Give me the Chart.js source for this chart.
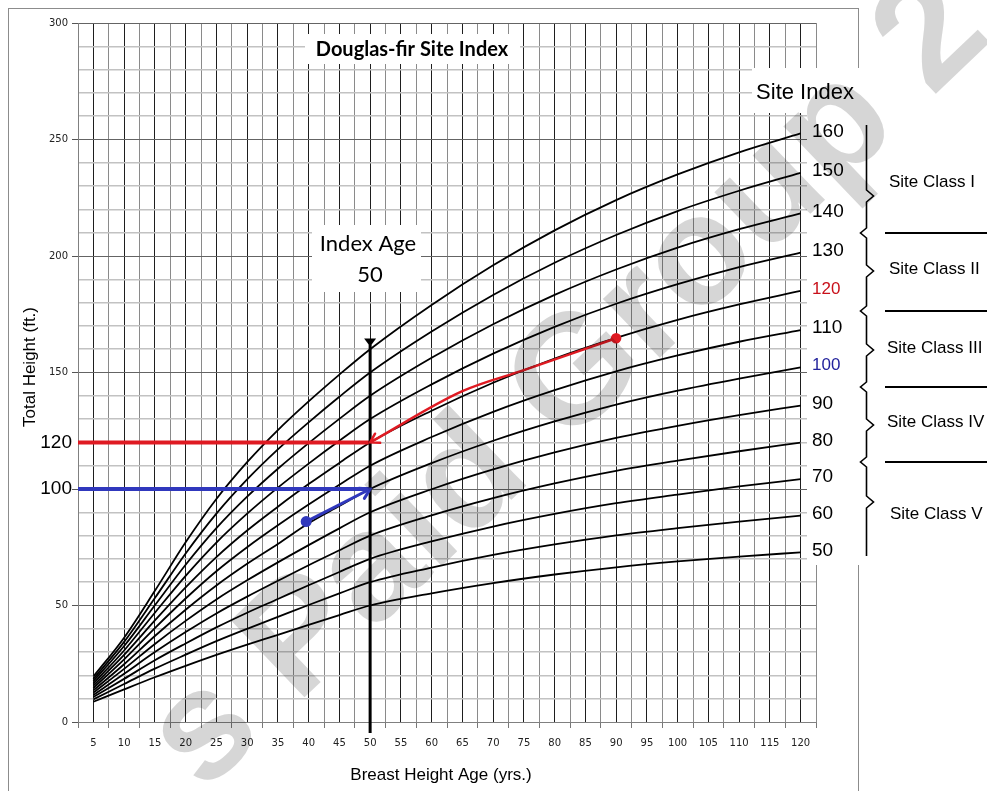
<!DOCTYPE html>
<html>
<head>
<meta charset="utf-8">
<title>Douglas-fir Site Index</title>
<script src="https://cdn.jsdelivr.net/npm/chart.js@4.4.1/dist/chart.umd.min.js"></script>
<style>
html, body { margin: 0; padding: 0; background: #fff; }
#wrap { width: 987px; height: 791px; }
</style>
</head>
<body>
<div id="wrap"><canvas id="siteChart" width="987" height="791"></canvas></div>
<script>
// breast height ages the curves were read at
const ages = [5, 10, 15, 20, 25, 30, 35, 40, 45, 50, 60, 70, 80, 90, 100, 110, 120];

// total height (ft.) for each site index curve
const heightSI50  = [8.7, 14.0, 19.2, 24.1, 28.8, 33.2, 37.4, 41.7, 45.9, 50, 55.2, 59.6, 63.3, 66.4, 68.9, 71.0, 72.8];
const heightSI60  = [9.7, 16.3, 22.9, 28.9, 34.7, 40.0, 45.1, 50.2, 55.2, 60, 66.3, 71.7, 76.2, 80.1, 83.2, 86.0, 88.6];
const heightSI70  = [10.7, 18.5, 26.5, 33.7, 40.6, 46.9, 52.8, 58.7, 64.4, 70, 77.5, 83.9, 89.3, 93.9, 97.6, 101.1, 104.2];
const heightSI80  = [11.6, 20.7, 30.0, 38.6, 46.6, 53.8, 60.6, 67.3, 73.7, 80, 88.7, 96.1, 102.4, 107.8, 112.2, 116.2, 119.9];
const heightSI90  = [12.6, 22.8, 33.5, 43.4, 52.6, 60.8, 68.5, 75.9, 83.1, 90, 99.9, 108.4, 115.7, 121.9, 127.1, 131.7, 135.8];
const heightSI100 = [13.6, 24.8, 36.9, 48.2, 58.6, 67.9, 76.4, 85.3, 92.7, 100, 111.1, 120.7, 129.0, 136.2, 142.2, 147.4, 152.2];
const heightSI110 = [14.6, 26.9, 40.3, 53.0, 64.7, 75.0, 84.4, 93.3, 101.8, 110, 122.3, 133.1, 142.4, 150.5, 157.3, 163.2, 168.2];
const heightSI120 = [15.6, 28.8, 43.6, 57.8, 70.8, 82.2, 92.4, 102.1, 111.2, 120, 133.6, 145.6, 156.0, 164.9, 172.6, 179.2, 185.0];
const heightSI130 = [16.5, 30.7, 46.9, 62.7, 77.0, 89.4, 100.6, 110.9, 120.7, 130, 144.9, 158.1, 169.6, 179.5, 187.9, 195.2, 201.4];
const heightSI140 = [17.5, 32.6, 50.1, 67.5, 83.2, 96.7, 108.7, 119.7, 130.1, 140, 156.3, 170.7, 183.3, 194.2, 203.6, 211.5, 218.3];
const heightSI150 = [18.5, 34.4, 53.2, 72.3, 89.4, 104.1, 117.0, 128.6, 139.6, 150, 167.6, 183.3, 197.1, 209.0, 219.3, 228.0, 235.7];
const heightSI160 = [19.5, 36.2, 56.3, 77.1, 95.7, 111.5, 125.3, 137.6, 149.1, 160, 179.0, 196.0, 211.0, 224.0, 235.0, 244.5, 252.6];

const siteIndexes = [50, 60, 70, 80, 90, 100, 110, 120, 130, 140, 150, 160];
const siteCurves  = [heightSI50, heightSI60, heightSI70, heightSI80, heightSI90, heightSI100,
                     heightSI110, heightSI120, heightSI130, heightSI140, heightSI150, heightSI160];

const xTickLabels = [5, 10, 15, 20, 25, 30, 35, 40, 45, 50, 55, 60, 65, 70, 75, 80, 85, 90, 95, 100, 105, 110, 115, 120];
const yTickLabels = [0, 50, 150, 200, 250, 300];   // 100 carries the big example label instead
const yMin = 0, yMax = 300, yGridStep = 10, yMajorStep = 50;

// worked examples
const redLevel = 120;
const redPathAges = [50, 65, 75, 90];
const redPathHeights = [120, 142, 151, 164.7];
const blueLevel = 100;
const blueArrowAges = [39.6, 50];
const blueArrowHeights = [86, 100];
const indexAge = 50;
const indexLineHeights = [-4.7, 162];

const siteClasses = ["Site Class I", "Site Class II", "Site Class III", "Site Class IV", "Site Class V"];

const xMin = xTickLabels[0] - 2.5;
const xMax = xTickLabels[xTickLabels.length - 1] + 2.5;
const xGridValues = [];
xTickLabels.forEach(function (v) { xGridValues.push(v - 2.5, v); });
xGridValues.push(xMax);
const yGridValues = [];
for (let v = yMin; v <= yMax; v += yGridStep) yGridValues.push(v);

function toPoints(xs, ys) {
    return xs.map(function (x, i) { return {x: x, y: ys[i]}; });
}

const redColor = '#df1a22';
const blueColor = '#3038bd';

const annotationSets = [
    {label: 'Index age', data: toPoints([indexAge, indexAge], indexLineHeights), borderColor: '#000', borderWidth: 3, pointRadius: 0, clip: false},
    {label: 'SI 120 level', data: toPoints([xMin, indexAge], [redLevel, redLevel]), borderColor: redColor, borderWidth: 4, pointRadius: 0},
    {label: 'SI 120 path', data: toPoints(redPathAges, redPathHeights), borderColor: redColor, backgroundColor: redColor, borderWidth: 2.5,
        pointRadius: [0, 0, 0, 4], cubicInterpolationMode: 'monotone'},
    {label: 'SI 100 level', data: toPoints([xMin, indexAge], [blueLevel, blueLevel]), borderColor: blueColor, borderWidth: 4, pointRadius: 0},
    {label: 'SI 100 path', data: toPoints(blueArrowAges, blueArrowHeights), borderColor: blueColor, backgroundColor: blueColor, borderWidth: 3,
        pointRadius: [4, 0]}
];

const curveSets = siteCurves.map(function (heights, i) {
    return {
        label: 'SI ' + siteIndexes[i],
        data: toPoints(ages, heights),
        borderColor: '#000',
        borderWidth: 1.8,
        pointRadius: 0,
        cubicInterpolationMode: 'monotone'
    };
});

function arrowHead(ctx, from, to, len, open) {
    const ang = Math.atan2(to.y - from.y, to.x - from.x);
    const a1 = ang + Math.PI - 0.55, a2 = ang + Math.PI + 0.55;
    ctx.beginPath();
    ctx.moveTo(to.x + len * Math.cos(a1), to.y + len * Math.sin(a1));
    ctx.lineTo(to.x, to.y);
    ctx.lineTo(to.x + len * Math.cos(a2), to.y + len * Math.sin(a2));
    if (open) ctx.stroke(); else { ctx.closePath(); ctx.fill(); }
}

function isMajorY(v) { return v % yMajorStep === 0; }

const decorations = {
    id: 'decorations',
    beforeDraw(chart) {
        const ctx = chart.ctx;
        ctx.save();
        ctx.fillStyle = '#fff';
        ctx.fillRect(0, 0, chart.width, chart.height);
        ctx.strokeStyle = '#8c8c8c';
        ctx.lineWidth = 1;
        ctx.strokeRect(8.5, 8.5, 850, 800);
        ctx.restore();
    },
    beforeDatasetsDraw(chart) {
        const ctx = chart.ctx;
        ctx.save();
        ctx.fillStyle = '#fff';
        ctx.fillRect(305, 34, 215, 30);     // title box
        ctx.fillRect(312, 225, 109, 67);    // index age box
        ctx.fillRect(752, 68, 108, 45);     // "Site Index" box
        ctx.fillRect(807, 113, 53, 452);    // curve labels
        ctx.restore();
    },
    afterDatasetsDraw(chart) {
        const ctx = chart.ctx;
        const xs = chart.scales.x, ys = chart.scales.y;
        const px = function (x, y) { return {x: xs.getPixelForValue(x), y: ys.getPixelForValue(y)}; };
        ctx.save();
        ctx.lineWidth = 2.5;
        ctx.lineCap = 'round';
        ctx.strokeStyle = redColor;
        arrowHead(ctx, px(redPathAges[1], redPathHeights[1]), px(redPathAges[0], redPathHeights[0]), 10, true);
        ctx.strokeStyle = blueColor;
        ctx.lineWidth = 3;
        arrowHead(ctx, px(blueArrowAges[0], blueArrowHeights[0]), px(blueArrowAges[1], blueArrowHeights[1]), 11, true);
        // index age marker
        const top = px(indexAge, indexLineHeights[1]);
        ctx.fillStyle = '#000';
        ctx.beginPath();
        ctx.moveTo(top.x - 6, top.y - 6);
        ctx.lineTo(top.x + 6, top.y - 6);
        ctx.lineTo(top.x, top.y + 2);
        ctx.closePath();
        ctx.fill();
        ctx.restore();
    },
    afterDraw(chart) {
        const ctx = chart.ctx;
        const area = chart.chartArea;
        const ys = chart.scales.y;
        ctx.save();
        ctx.fillStyle = '#000';
        ctx.textBaseline = 'middle';

        ctx.textAlign = 'center';
        ctx.font = 'bold 20px Lato';
        ctx.fillText('Douglas-fir Site Index', 412, 50);
        ctx.font = '22px Lato';
        ctx.fillText('Index Age', 368, 244);
        ctx.fillText('50', 370, 275);

        ctx.font = '22px "Liberation Sans"';
        ctx.fillText('Site Index', 805, 93);

        ctx.textAlign = 'left';
        siteCurves.forEach(function (heights, i) {
            const si = siteIndexes[i];
            const y = ys.getPixelForValue(heights[heights.length - 1]) - 2;
            if (si === redLevel) { ctx.fillStyle = '#c8101a'; ctx.font = '17px "Liberation Sans"'; }
            else if (si === blueLevel) { ctx.fillStyle = '#23239c'; ctx.font = '17px "Liberation Sans"'; }
            else { ctx.fillStyle = '#000'; ctx.font = '19px "Liberation Sans"'; }
            ctx.fillText(String(si), area.right - 4, y);
        });

        // site class brackets
        ctx.fillStyle = '#000';
        ctx.strokeStyle = '#000';
        ctx.font = '17px "Liberation Sans"';
        const classY = [182, 269, 348, 422, 514];
        const classX = [889, 889, 887, 887, 890];
        siteClasses.forEach(function (t, i) { ctx.fillText(t, classX[i], classY[i]); });
        const seps = [233, 311, 387, 462];
        ctx.lineWidth = 2;
        seps.forEach(function (y) {
            ctx.beginPath(); ctx.moveTo(885, y); ctx.lineTo(987, y); ctx.stroke();
        });
        const bx = 866.5, bumps = [196, 271, 350, 425, 502];
        ctx.lineWidth = 1.6;
        ctx.beginPath();
        ctx.moveTo(bx, 125);
        for (let i = 0; i < bumps.length; i++) {
            ctx.lineTo(bx, bumps[i] - 6);
            ctx.lineTo(bx + 7, bumps[i]);
            ctx.lineTo(bx, bumps[i] + 6);
            if (i < seps.length) {
                ctx.lineTo(bx, seps[i] - 5);
                ctx.lineTo(bx - 6, seps[i]);
                ctx.lineTo(bx, seps[i] + 5);
            }
        }
        ctx.lineTo(bx, 556);
        ctx.stroke();

        // axis titles
        ctx.textAlign = 'center';
        ctx.font = '17px "Liberation Sans"';
        ctx.fillText('Breast Height Age (yrs.)', 441, 775);
        ctx.save();
        ctx.translate(30, 367);
        ctx.rotate(-Math.PI / 2);
        ctx.fillText('Total Height (ft.)', 0, 0);
        ctx.restore();

        ctx.textAlign = 'right';
        ctx.font = '19px "Liberation Sans"';
        ctx.fillText(String(redLevel), 72, ys.getPixelForValue(redLevel));
        ctx.fillText(String(blueLevel), 72, ys.getPixelForValue(blueLevel));
        ctx.restore();

        // watermark, multiplied over the page so dark lines stay dark
        ctx.save();
        ctx.globalCompositeOperation = 'multiply';
        ctx.translate(207, 735);
        ctx.rotate(-43.7 * Math.PI / 180);
        ctx.font = 'bold 155px "Liberation Sans"';
        ctx.fillStyle = '#d6d6d6';
        ctx.textBaseline = 'alphabetic';
        ctx.textAlign = 'left';
        const sw = ctx.measureText('s').width;
        ctx.fillText('s Paid Group 2', -sw / 2, 40);
        ctx.restore();
    }
};

Chart.defaults.font.family = '"DejaVu Sans"';

const ctx = document.getElementById('siteChart').getContext('2d');
const siteChart = new Chart(ctx, {
    type: 'line',
    data: {datasets: annotationSets.concat(curveSets)},
    options: {
        responsive: false,
        animation: false,
        devicePixelRatio: 1,
        layout: {padding: {left: 0, top: 23, right: 171, bottom: 0}},
        plugins: {legend: {display: false}, tooltip: {enabled: false}},
        scales: {
            x: {
                type: 'linear',
                min: xMin,
                max: xMax,
                afterBuildTicks: function (scale) { scale.ticks = xGridValues.map(function (v) { return {value: v}; }); },
                afterFit: function (scale) { scale.height = 69; },
                ticks: {
                    autoSkip: false, maxRotation: 0, padding: 9,
                    color: '#222', font: {size: 10},
                    callback: function (v) { return xTickLabels.indexOf(v) >= 0 ? String(v) : ''; }
                },
                grid: {
                    color: function (c) { return xTickLabels.indexOf(c.tick.value) >= 0 ? '#1e1e1e' : '#8a8a8a'; },
                    tickColor: function (c) { return xTickLabels.indexOf(c.tick.value) >= 0 ? 'rgba(0,0,0,0)' : '#777'; },
                    tickLength: 6,
                    lineWidth: 1
                },
                border: {color: '#808080'}
            },
            y: {
                type: 'linear',
                min: yMin,
                max: yMax,
                afterBuildTicks: function (scale) { scale.ticks = yGridValues.map(function (v) { return {value: v}; }); },
                afterFit: function (scale) { scale.width = 78; },
                ticks: {
                    autoSkip: false, padding: 4,
                    color: '#222', font: {size: 10},
                    callback: function (v) { return yTickLabels.indexOf(v) >= 0 ? String(v) : ''; }
                },
                grid: {
                    color: function (c) { return isMajorY(c.tick.value) ? '#646464' : '#c2c2c2'; },
                    lineWidth: function (c) { return isMajorY(c.tick.value) ? 1 : 1.5; },
                    tickColor: function (c) { return isMajorY(c.tick.value) ? '#555' : 'rgba(0,0,0,0)'; },
                    tickLength: 6
                },
                border: {color: '#808080'}
            }
        }
    },
    plugins: [decorations]
});
</script>
</body>
</html>
